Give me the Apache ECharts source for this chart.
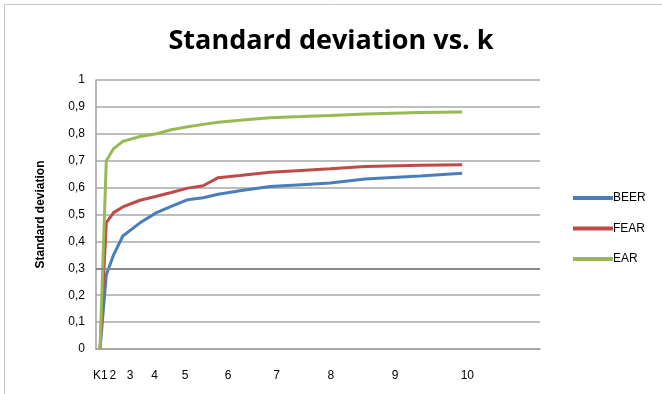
<!DOCTYPE html>
<html>
<head>
<meta charset="utf-8">
<script src="https://cdn.jsdelivr.net/npm/echarts@6/dist/echarts.min.js"></script>
<style>
	html, body { margin: 0; padding: 0; background: #fff; }
	#chart { width: 662px; height: 394px; }
</style>
</head>
<body>
<div id="chart"></div>
<script>
// x is on a squared-k scale (tick "k" sits at about k*k)
var xPos = [1.1, 2.8, 4.8, 7.3, 12, 16.5, 20.5, 25, 29.2, 33.3, 39.2, 47.4, 56, 63.8, 73.4, 88.3, 99.8]
var beer = [0, 0.275, 0.35, 0.42, 0.469, 0.507, 0.53, 0.555, 0.562, 0.575, 0.588, 0.604, 0.611, 0.617, 0.632, 0.643, 0.653]
var fear = [0, 0.47, 0.507, 0.528, 0.553, 0.568, 0.582, 0.598, 0.607, 0.637, 0.645, 0.657, 0.664, 0.670, 0.678, 0.683, 0.685]
var ear = [0, 0.70, 0.745, 0.772, 0.79, 0.80, 0.815, 0.826, 0.835, 0.843, 0.85, 0.86, 0.864, 0.868, 0.874, 0.879, 0.881]

var seriesNames = ['BEER', 'FEAR', 'EAR']
var xTickLabels = ['K', '1', '2', '3', '4', '5', '6', '7', '8', '9', '10']
var xTickPos = [0.3, 2.3, 4.6, 9.3, 16, 24.3, 36, 49.2, 64, 81.5, 101.2]
var refLine = 0.3

function pairs(ys) {
	return ys.map(function (y, i) { return [xPos[i], y] })
}

var chart = echarts.init(document.getElementById('chart'))
var font = 'Liberation Sans'
var colors = ['#4a7ebb', '#be4b48', '#98b954']

chart.setOption({
	animation: false,
	color: colors,
	title: {
		text: 'Standard deviation vs. k',
		left: 'center',
		top: 23,
		textStyle: { fontFamily: 'Open Sans', fontWeight: 'bold', fontSize: 27, color: '#000' }
	},
	graphic: [{
		type: 'rect',
		shape: { x: 4.5, y: 4.5, width: 700, height: 420 },
		style: { fill: 'none', stroke: '#c8c8c8', lineWidth: 1 },
		silent: true
	}],
	grid: { left: 96, right: 122, top: 80, bottom: 45 },
	legend: {
		data: seriesNames,
		orient: 'vertical',
		left: 568,
		top: 187,
		icon: 'rect',
		itemWidth: 40,
		itemHeight: 4,
		itemGap: 18.5,
		textStyle: { fontFamily: font, fontSize: 12, color: '#000', padding: [0, 0, 0, -5] }
	},
	xAxis: {
		type: 'value',
		min: 0,
		max: 121,
		axisLine: { lineStyle: { color: '#a0a0a0', width: 1.5 } },
		axisTick: { show: false },
		splitLine: { show: false },
		axisLabel: {
			customValues: xTickPos,
			margin: 21,
			fontFamily: font,
			fontSize: 12,
			color: '#000',
			formatter: function (v) {
				var i = xTickPos.indexOf(v)
				return i >= 0 ? xTickLabels[i] : ''
			}
		}
	},
	yAxis: {
		type: 'value',
		min: 0,
		max: 1,
		interval: 0.1,
		name: 'Standard deviation',
		nameLocation: 'middle',
		nameRotate: 90,
		nameGap: 49,
		nameTextStyle: { fontFamily: font, fontWeight: 'bold', fontSize: 12, color: '#000' },
		axisLine: { show: true, lineStyle: { color: '#a0a0a0', width: 1.5 } },
		axisTick: { show: false },
		splitLine: { lineStyle: { color: '#a8a8a8', width: 1.5 } },
		axisLabel: {
			margin: 11,
			fontFamily: font,
			fontSize: 12,
			color: '#000',
			formatter: function (v) { return String(Math.round(v * 10) / 10).replace('.', ',') }
		}
	},
	series: [
		{
			name: seriesNames[0], type: 'line', data: pairs(beer), showSymbol: false,
			lineStyle: { width: 3 },
			markLine: {
				silent: true, symbol: 'none', label: { show: false },
				lineStyle: { color: '#8a8a8a', width: 2, type: 'solid' },
				data: [{ yAxis: refLine }]
			}
		},
		{ name: seriesNames[1], type: 'line', data: pairs(fear), showSymbol: false, lineStyle: { width: 3 } },
		{ name: seriesNames[2], type: 'line', data: pairs(ear), showSymbol: false, lineStyle: { width: 3 } }
	]
})
</script>
</body>
</html>
